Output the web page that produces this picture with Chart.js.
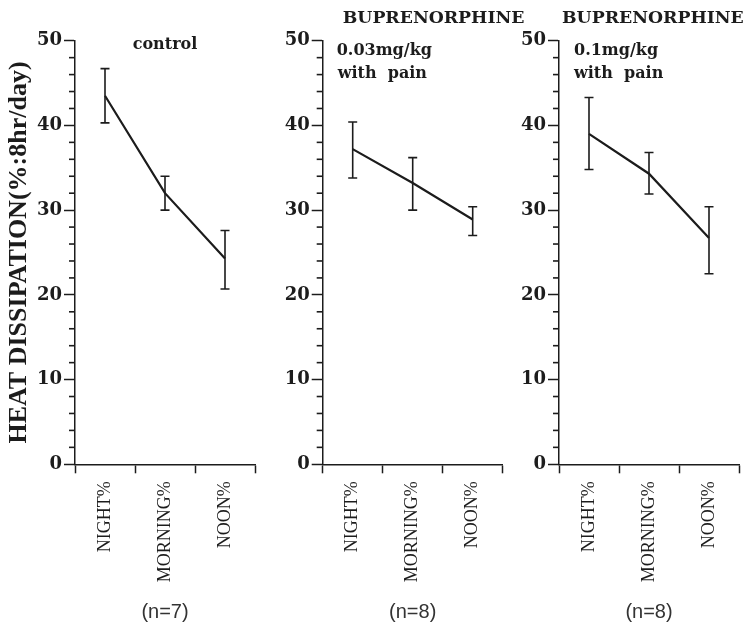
<!DOCTYPE html>
<html>
<head>
<meta charset="utf-8">
<script src="https://cdn.jsdelivr.net/npm/chart.js@4/dist/chart.umd.min.js"></script>
<style>
  body { margin: 0; background: #fff; }
  #wrap { position: relative; width: 746px; height: 630px; }
  #wrap canvas { position: absolute; left: 0; top: 0; }
</style>
</head>
<body>
<div id="wrap">
  <canvas id="c1" width="746" height="630"></canvas>
  <canvas id="c2" width="746" height="630"></canvas>
  <canvas id="c3" width="746" height="630"></canvas>
</div>
<script>
// values (mean, lower and upper end of the error bar)
const categories = ['NIGHT%', 'MORNING%', 'NOON%'];

const controlMean = [43.5, 32.0, 24.3];
const controlLow  = [40.3, 30.0, 20.7];
const controlHigh = [46.7, 34.0, 27.6];

const bup003Mean = [37.2, 33.2, 28.9];
const bup003Low  = [33.8, 30.0, 27.0];
const bup003High = [40.4, 36.2, 30.4];

const bup01Mean = [39.0, 34.3, 26.7];
const bup01Low  = [34.8, 31.9, 22.5];
const bup01High = [43.3, 36.8, 30.4];

const yTicks = [0, 10, 20, 30, 40, 50];
const nLabels = ['(n=7)', '(n=8)', '(n=8)'];
const yTitle = 'HEAT DISSIPATION(%:8hr/day)';
const drugName = 'BUPRENORPHINE';

const ink = '#1c1c1c';
const serif = "'DejaVu Serif', serif";

// error bars + minor y ticks + panel texts
const extras = {
  id: 'extras',
  afterDatasetsDraw(chart, args, opts) {
    const ctx = chart.ctx;
    const x = chart.scales.x, y = chart.scales.y;
    ctx.save();
    ctx.strokeStyle = ink;
    ctx.lineWidth = 1.6;
    opts.low.forEach((lo, i) => {
      const px = x.getPixelForValue(i);
      const y1 = y.getPixelForValue(lo), y2 = y.getPixelForValue(opts.high[i]);
      ctx.beginPath();
      ctx.moveTo(px, y1); ctx.lineTo(px, y2);
      ctx.moveTo(px - 4.5, y1); ctx.lineTo(px + 4.5, y1);
      ctx.moveTo(px - 4.5, y2); ctx.lineTo(px + 4.5, y2);
      ctx.stroke();
    });
    // short minor ticks every 2 units
    const left = chart.chartArea.left;
    y.ticks.forEach(t => {
      if (t.value % 10 !== 0) {
        const py = y.getPixelForValue(t.value);
        ctx.beginPath();
        ctx.moveTo(left - 6, py); ctx.lineTo(left, py);
        ctx.stroke();
      }
    });
    ctx.fillStyle = ink;
    (opts.texts || []).forEach(t => {
      ctx.font = t.font;
      ctx.textAlign = t.align || 'left';
      ctx.textBaseline = 'alphabetic';
      ctx.fillText(t.text, chart.chartArea.left + t.dx, t.y);
    });
    ctx.restore();
  }
};

function makePanel(id, mean, low, high, n, box, texts, showTitle) {
  return new Chart(document.getElementById(id), {
    type: 'line',
    data: {
      labels: categories,
      datasets: [{
        data: mean,
        borderColor: ink,
        borderWidth: 2.2,
        pointRadius: 0,
        tension: 0
      }]
    },
    options: {
      responsive: false,
      animation: false,
      layout: { padding: { left: box.padLeft, right: box.padRight, top: 40.7, bottom: 0 } },
      plugins: {
        legend: { display: false },
        tooltip: { enabled: false },
        extras: { low: low, high: high, texts: texts }
      },
      scales: {
        x: {
          offset: true,
          grid: { offset: true, drawOnChartArea: false, tickLength: 9, tickWidth: 1.5, tickColor: ink },
          border: { color: ink, width: 1.5 },
          ticks: {
            minRotation: 90, maxRotation: 90, padding: 8, color: ink,
            font: { family: "'Liberation Serif', serif", size: 18 }
          },
          title: {
            display: true, text: n, color: '#333',
            font: { family: "'Liberation Sans', sans-serif", size: 20 },
            padding: { top: 0, bottom: 6 }
          },
          afterFit(scale) { scale.height = 630 - 464.3; }
        },
        y: {
          min: 0, max: 50,
          grid: {
            drawOnChartArea: false, tickLength: 11, tickWidth: 1.5,
            tickColor: c => (c.tick && c.tick.value % 10 === 0) ? ink : 'rgba(0,0,0,0)'
          },
          border: { color: ink, width: 1.5 },
          ticks: {
            stepSize: 2, autoSkip: false, padding: 2, color: ink,
            font: { family: serif, size: 18, weight: 'bold' },
            callback: v => yTicks.includes(v) ? v : ''
          },
          title: {
            display: showTitle, text: yTitle, color: ink,
            font: { family: "'Liberation Serif', serif", size: 26, weight: 'bold' },
            padding: { top: 4, bottom: 0 }
          },
          afterFit(scale) { scale.width = box.yWidth; }
        }
      }
    },
    plugins: [extras]
  });
}

const subFont = 'bold 16px ' + serif;
const headFont = 'bold 17.3px ' + serif;

makePanel('c1', controlMean, controlLow, controlHigh, nLabels[0],
  { padLeft: 0, padRight: 746 - 255, yWidth: 75 },
  [{ text: 'control', dx: 90, y: 49, font: subFont, align: 'center' }], true);

makePanel('c2', bup003Mean, bup003Low, bup003High, nLabels[1],
  { padLeft: 322.7 - 40, padRight: 746 - 502.7, yWidth: 40 },
  [{ text: drugName, dx: 20, y: 23, font: headFont },
   { text: '0.03mg/kg', dx: 14, y: 55, font: subFont },
   { text: 'with  pain', dx: 15, y: 78, font: subFont }], false);

makePanel('c3', bup01Mean, bup01Low, bup01High, nLabels[2],
  { padLeft: 559 - 40, padRight: 746 - 739, yWidth: 40 },
  [{ text: drugName, dx: 3, y: 23, font: headFont },
   { text: '0.1mg/kg', dx: 15, y: 55, font: subFont },
   { text: 'with  pain', dx: 15, y: 78, font: subFont }], false);
</script>
</body>
</html>
